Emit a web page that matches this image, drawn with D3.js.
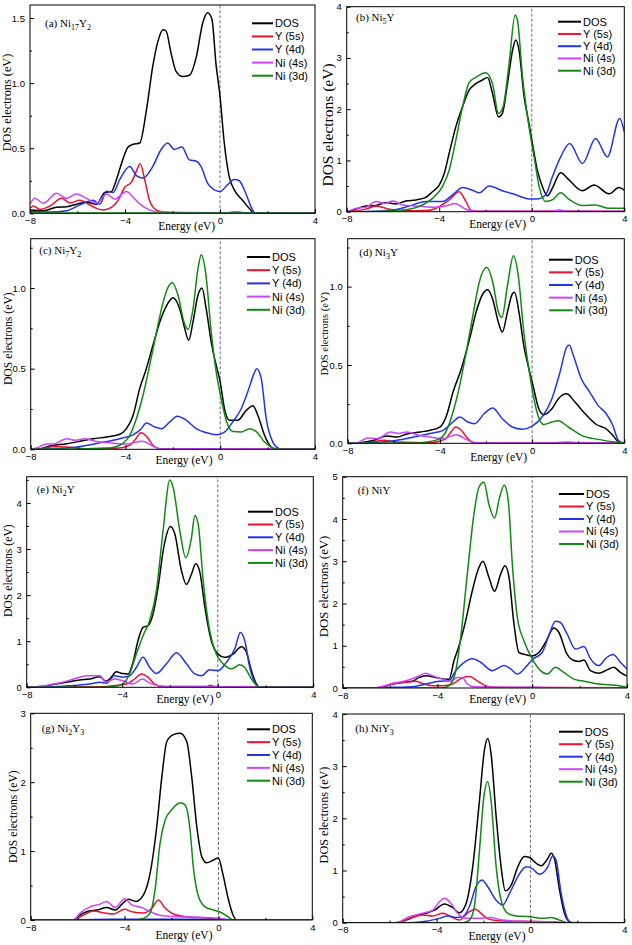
<!DOCTYPE html>
<html><head><meta charset="utf-8">
<script src="https://cdn.jsdelivr.net/npm/d3@7"></script>
<style>body{margin:0;background:#fff}svg{display:block}</style>
</head><body>
<script>
// ---------- DATA ----------
const seriesNames = ["DOS","Y (5s)","Y (4d)","Ni (4s)","Ni (3d)"];
const xTickLabels = [-8,-4,0,4];
const xMinorTicks = [-6,-2,2];
const yTicksA = [0,0.5,1.0,1.5];
const yTicksB = [0,1,2,3,4];
const yTicksC = [0,0.5,1.0];
const yTicksD = [0,0.5,1.0];
const yTicksE = [0,1,2,3,4];
const yTicksF = [0,1,2,3,4,5];
const yTicksG = [0,1,2,3];
const yTicksH = [0,1,2,3,4];
const titleA = [["(a) Ni",0],["17",1],["Y",0],["2",1]];
const titleB = [["(b) Ni",0],["5",1],["Y",0]];
const titleC = [["(c) Ni",0],["7",1],["Y",0],["2",1]];
const titleD = [["(d) Ni",0],["3",1],["Y",0]];
const titleE = [["(e) Ni",0],["2",1],["Y",0]];
const titleF = [["(f) NiY",0]];
const titleG = [["(g) Ni",0],["2",1],["Y",0],["3",1]];
const titleH = [["(h) NiY",0],["3",1]];
const xLabel = "Energy (eV)";
const yLabel = "DOS electrons (eV)";

// (a) Ni17Y2
const a_DOS = [[-8,0.026],[-7.44,0.02],[-6.88,0.046],[-6.46,0.05],[-6.04,0.07],[-5.62,0.085],[-5.2,0.07],[-4.85,0.16],[-4.57,0.167],[-4.36,0.26],[-4.15,0.38],[-3.87,0.51],[-3.66,0.53],[-3.38,0.54],[-3.1,0.79],[-2.83,1.13],[-2.6,1.33],[-2.4,1.41],[-2.27,1.40],[-2.06,1.23],[-1.85,1.09],[-1.57,1.05],[-1.29,1.06],[-1.0,1.2],[-0.73,1.46],[-0.52,1.54],[-0.34,1.49],[-0.17,1.15],[0,0.9],[0.18,0.54],[0.39,0.28],[0.6,0.18],[0.95,0.10],[1.23,0.038],[1.44,0],[4,0]];
const a_Y5s = [[-8,0.038],[-7.86,0.056],[-7.58,0.03],[-7.16,0.056],[-6.67,0.115],[-6.32,0.08],[-5.9,0.1],[-5.48,0.064],[-5.2,0.038],[-4.92,0.026],[-4.57,0.046],[-4.29,0.1],[-4.01,0.2],[-3.73,0.24],[-3.55,0.31],[-3.36,0.38],[-3.17,0.26],[-2.97,0.1],[-2.69,0.026],[-2.4,0.01],[-1.5,0.005],[0.3,0.004],[0.7,0.01],[1.1,0.004],[4,0.003]];
const a_Y4d = [[-8,0.013],[-7.16,0.01],[-6.46,0.02],[-5.9,0.065],[-5.34,0.1],[-5.06,0.07],[-4.78,0.17],[-4.5,0.16],[-4.22,0.26],[-3.8,0.36],[-3.52,0.29],[-3.24,0.27],[-2.83,0.36],[-2.48,0.49],[-2.2,0.54],[-1.92,0.49],[-1.6,0.51],[-1.29,0.41],[-1.0,0.40],[-0.8,0.36],[-0.52,0.23],[-0.24,0.18],[0,0.167],[0.32,0.22],[0.6,0.26],[0.81,0.25],[1.09,0.15],[1.37,0.026],[1.51,0],[4,0]];
const a_Ni4s = [[-8,0.07],[-7.79,0.115],[-7.44,0.077],[-6.88,0.154],[-6.46,0.115],[-6.04,0.149],[-5.62,0.115],[-5.2,0.077],[-4.78,0.149],[-4.43,0.108],[-3.94,0.167],[-3.66,0.123],[-3.38,0.072],[-2.97,0.026],[-2.55,0.01],[-1.5,0.006],[0.3,0.004],[0.6,0.012],[1.0,0.004],[4,0.003]];
const a_Ni3d = [[-8,0.002],[-4,0.003],[0,0.003],[4,0.002]];

// (b) Ni5Y
const b_DOS = [[-8,0],[-7.74,0.03],[-7.17,0.11],[-6.73,0.12],[-6.3,0.18],[-5.87,0.15],[-5.44,0.21],[-5.0,0.23],[-4.58,0.28],[-4.29,0.39],[-4.0,0.52],[-3.78,0.75],[-3.57,1.14],[-3.28,1.66],[-2.99,2.05],[-2.71,2.37],[-2.42,2.5],[-2.13,2.57],[-1.91,2.62],[-1.7,2.31],[-1.44,1.85],[-1.27,1.92],[-1.05,2.5],[-0.83,3.15],[-0.69,3.35],[-0.55,3.15],[-0.33,2.24],[-0.12,1.72],[0.03,1.33],[0.24,0.81],[0.46,0.49],[0.68,0.31],[0.89,0.46],[1.25,0.76],[1.61,0.62],[2.19,0.41],[2.69,0.52],[3.34,0.35],[3.77,0.47],[4,0.42]];
const b_Y5s = [[-8,0],[-7.17,0.05],[-6.73,0.11],[-6.16,0.05],[-5.58,0.02],[-4.43,0.03],[-4.0,0.1],[-3.57,0.23],[-3.14,0.39],[-2.85,0.2],[-2.63,0.03],[-2.4,0.01],[0.8,0.01],[1.2,0.03],[1.6,0.01],[4,0.01]];
const b_Y4d = [[-8,0],[-6.73,0.01],[-6.01,0.03],[-5.3,0.11],[-4.58,0.2],[-3.86,0.2],[-3.42,0.33],[-2.99,0.47],[-2.56,0.42],[-2.27,0.37],[-1.84,0.5],[-1.27,0.41],[-0.69,0.33],[-0.12,0.25],[0.24,0.25],[0.6,0.33],[0.89,0.68],[1.25,1.07],[1.64,1.33],[2.19,0.94],[2.76,1.43],[3.27,1.07],[3.8,1.82],[4,1.56]];
const b_Ni4s = [[-8,0],[-7.6,0.065],[-7.17,0.085],[-6.73,0.2],[-6.37,0.16],[-5.99,0.21],[-5.58,0.13],[-5.0,0.11],[-4.29,0.085],[-3.71,0.11],[-3.31,0.16],[-2.92,0.065],[-2.63,0.02],[-2.3,0.01],[0.8,0.01],[1.2,0.03],[1.6,0.01],[4,0.01]];
const b_Ni3d = [[-8,0],[-6.45,0.01],[-5.3,0.05],[-4.72,0.13],[-4.29,0.26],[-3.86,0.49],[-3.57,0.81],[-3.28,1.4],[-2.99,2.05],[-2.71,2.52],[-2.42,2.62],[-1.99,2.71],[-1.7,2.5],[-1.44,1.92],[-1.24,2.05],[-0.98,2.89],[-0.72,3.84],[-0.62,3.74],[-0.4,2.63],[-0.12,1.66],[0.1,1.07],[0.32,0.49],[0.6,0.2],[0.89,0.23],[1.25,0.37],[1.61,0.24],[2.19,0.12],[2.76,0.13],[3.34,0.065],[4,0.065]];

// (c) Ni7Y2
const c_DOS = [[-8,0],[-7.6,0.004],[-7.19,0.02],[-6.48,0.035],[-5.92,0.05],[-5.36,0.066],[-4.8,0.076],[-4.24,0.093],[-3.96,0.128],[-3.68,0.21],[-3.4,0.376],[-3.12,0.5],[-2.84,0.645],[-2.55,0.79],[-2.27,0.89],[-1.99,0.94],[-1.71,0.87],[-1.5,0.75],[-1.33,0.676],[-1.15,0.79],[-0.94,0.955],[-0.77,1.0],[-0.59,0.87],[-0.38,0.665],[-0.17,0.52],[0,0.417],[0.18,0.25],[0.39,0.18],[0.74,0.18],[1.09,0.24],[1.38,0.27],[1.59,0.21],[1.87,0.087],[2.15,0.014],[2.36,0],[4,0]];
const c_Y5s = [[-8,0],[-7.6,0.004],[-6.9,0.017],[-6.34,0.012],[-5.64,0.004],[-4.38,0.006],[-3.82,0.025],[-3.56,0.066],[-3.35,0.103],[-3.12,0.083],[-2.84,0.025],[-2.55,0.004],[4,0.003]];
const c_Y4d = [[-8,0],[-7.05,0.004],[-6.06,0.014],[-5.08,0.04],[-4.24,0.066],[-3.68,0.09],[-3.33,0.128],[-3.12,0.163],[-2.76,0.138],[-2.48,0.128],[-2.13,0.17],[-1.81,0.205],[-1.43,0.18],[-1.01,0.128],[-0.59,0.103],[-0.17,0.09],[0.18,0.107],[0.53,0.17],[0.88,0.25],[1.16,0.355],[1.4,0.46],[1.54,0.5],[1.73,0.44],[1.94,0.19],[2.22,0.045],[2.5,0.004],[2.65,0],[4,0]];
const c_Ni4s = [[-8,0],[-7.75,0.008],[-7.33,0.033],[-7.05,0.033],[-6.48,0.066],[-6.13,0.056],[-5.71,0.066],[-5.29,0.05],[-4.66,0.04],[-3.96,0.033],[-3.28,0.05],[-2.91,0.025],[-2.55,0.004],[4,0.003]];
const c_Ni3d = [[-8,0],[-6,0.002],[-4.66,0.008],[-4.24,0.025],[-3.82,0.087],[-3.54,0.19],[-3.26,0.335],[-2.98,0.52],[-2.69,0.727],[-2.41,0.913],[-2.2,1.006],[-2.02,1.033],[-1.78,0.955],[-1.53,0.79],[-1.36,0.744],[-1.15,0.87],[-0.94,1.12],[-0.8,1.207],[-0.62,1.1],[-0.38,0.727],[-0.17,0.48],[0.04,0.314],[0.25,0.18],[0.53,0.11],[0.88,0.107],[1.24,0.128],[1.52,0.11],[1.87,0.045],[2.22,0.008],[2.5,0],[4,0]];

// (d) Ni3Y
const d_DOS = [[-8,0],[-7.43,0.004],[-6.86,0.02],[-6.29,0.047],[-5.86,0.04],[-5.43,0.06],[-4.86,0.072],[-4.43,0.083],[-4.0,0.104],[-3.71,0.178],[-3.43,0.327],[-3.07,0.476],[-2.71,0.667],[-2.43,0.837],[-2.14,0.953],[-1.93,0.98],[-1.71,0.92],[-1.46,0.77],[-1.29,0.71],[-1.07,0.837],[-0.86,0.953],[-0.76,0.964],[-0.57,0.837],[-0.36,0.624],[-0.14,0.476],[0.07,0.35],[0.29,0.22],[0.5,0.183],[0.86,0.22],[1.14,0.285],[1.5,0.316],[1.86,0.263],[2.29,0.19],[2.79,0.12],[3.21,0.093],[3.5,0.051],[3.79,0.004],[4,0]];
const d_Y5s = [[-8,0],[-7.14,0.004],[-6.43,0.02],[-5.86,0.008],[-4.43,0.004],[-3.79,0.025],[-3.57,0.062],[-3.31,0.104],[-3.07,0.083],[-2.79,0.03],[-2.5,0.004],[4,0.003]];
const d_Y4d = [[-8,0],[-7.14,0.002],[-6.14,0.013],[-5.14,0.04],[-4.43,0.062],[-3.86,0.083],[-3.43,0.136],[-3.14,0.168],[-2.79,0.136],[-2.5,0.125],[-2.07,0.19],[-1.71,0.225],[-1.29,0.157],[-0.86,0.104],[-0.43,0.09],[0,0.11],[0.43,0.168],[0.86,0.285],[1.21,0.454],[1.5,0.614],[1.61,0.628],[1.79,0.56],[2.14,0.41],[2.5,0.327],[2.86,0.242],[3.21,0.19],[3.5,0.115],[3.74,0.02],[4,0]];
const d_Ni4s = [[-8,0],[-7.57,0.004],[-7.14,0.034],[-6.71,0.03],[-6.14,0.072],[-5.79,0.062],[-5.43,0.072],[-5.0,0.055],[-4.43,0.04],[-3.86,0.03],[-3.29,0.055],[-2.86,0.025],[-2.5,0.004],[1.0,0.004],[1.5,0.008],[2.0,0.004],[4,0.003]];
const d_Ni3d = [[-8,0],[-5,0.002],[-4.57,0.008],[-4.0,0.03],[-3.71,0.083],[-3.43,0.2],[-3.14,0.37],[-2.86,0.58],[-2.57,0.815],[-2.29,1.03],[-1.97,1.123],[-1.71,1.03],[-1.46,0.837],[-1.31,0.805],[-1.07,1.006],[-0.81,1.197],[-0.6,1.07],[-0.36,0.71],[-0.07,0.41],[0.21,0.2],[0.5,0.12],[0.86,0.136],[1.14,0.144],[1.57,0.104],[2.14,0.051],[2.86,0.025],[3.57,0.008],[4,0]];

// (e) Ni2Y
const e_DOS = [[-8,0],[-7.46,0.015],[-6.9,0.06],[-6.34,0.11],[-5.78,0.16],[-5.36,0.18],[-4.94,0.23],[-4.69,0.13],[-4.46,0.22],[-4.25,0.34],[-4.0,0.3],[-3.76,0.29],[-3.55,0.54],[-3.34,1.01],[-3.13,1.3],[-2.92,1.34],[-2.71,1.59],[-2.5,2.17],[-2.26,3.04],[-1.98,3.49],[-1.8,3.33],[-1.52,2.53],[-1.31,2.23],[-1.1,2.46],[-0.92,2.68],[-0.75,2.5],[-0.54,1.74],[-0.27,1.01],[0.01,0.72],[0.29,0.65],[0.64,0.72],[0.99,0.88],[1.2,0.76],[1.41,0.36],[1.62,0.07],[1.76,0],[4,0]];
const e_Y5s = [[-8,0],[-7,0.005],[-4.94,0.01],[-4.25,0.04],[-3.83,0.07],[-3.48,0.18],[-3.2,0.29],[-2.92,0.22],[-2.64,0.07],[-2.29,0.015],[-0.47,0.015],[-0.31,0.045],[-0.15,0.015],[1.8,0.005],[4,0.003]];
const e_Y4d = [[-8,0],[-7.04,0.007],[-6.06,0.04],[-5.36,0.07],[-4.94,0.11],[-4.66,0.09],[-4.32,0.25],[-3.97,0.22],[-3.69,0.25],[-3.41,0.43],[-3.13,0.65],[-2.85,0.43],[-2.57,0.3],[-2.15,0.51],[-1.73,0.75],[-1.31,0.51],[-0.96,0.29],[-0.68,0.25],[-0.34,0.38],[0.01,0.36],[0.36,0.54],[0.71,0.83],[0.95,1.19],[1.13,1.01],[1.34,0.43],[1.55,0.11],[1.76,0],[4,0]];
const e_Ni4s = [[-8,0],[-7.46,0.015],[-6.9,0.07],[-6.34,0.13],[-5.78,0.22],[-5.5,0.25],[-4.94,0.25],[-4.69,0.11],[-4.32,0.18],[-3.97,0.14],[-3.55,0.07],[-3.16,0.18],[-2.85,0.09],[-2.43,0.03],[-1.9,0.015],[0.8,0.01],[1.0,0.02],[1.3,0.01],[4,0.003]];
const e_Ni3d = [[-8,0],[-4.7,0.003],[-4.39,0.015],[-4.0,0.07],[-3.69,0.29],[-3.41,0.72],[-3.13,1.12],[-2.85,1.45],[-2.57,2.1],[-2.29,3.4],[-2.01,4.5],[-1.87,4.34],[-1.59,3.4],[-1.34,2.81],[-1.1,3.25],[-0.96,3.73],[-0.82,3.54],[-0.61,2.31],[-0.34,1.23],[-0.06,0.72],[0.22,0.51],[0.57,0.4],[0.92,0.49],[1.13,0.43],[1.41,0.18],[1.62,0.04],[1.76,0],[4,0]];

// (f) NiY
const f_DOS = [[-8,0],[-6.5,0],[-6.32,0.016],[-5.9,0.095],[-5.48,0.134],[-5.06,0.158],[-4.78,0.25],[-4.49,0.29],[-4.07,0.25],[-3.65,0.21],[-3.51,0.21],[-3.3,0.65],[-3.09,1.0],[-2.81,1.59],[-2.53,2.3],[-2.25,2.85],[-2.08,3.0],[-1.83,2.62],[-1.59,2.29],[-1.33,2.7],[-1.15,2.89],[-0.98,2.62],[-0.77,1.51],[-0.56,0.84],[-0.28,0.79],[0,0.76],[0.28,0.84],[0.56,1.08],[0.91,1.42],[1.12,1.32],[1.47,0.8],[1.76,0.65],[1.97,0.63],[2.18,0.66],[2.46,0.41],[2.81,0.35],[3.16,0.43],[3.44,0.49],[3.72,0.37],[4,0.28]];
const f_Y5s = [[-8,0],[-6.6,0.002],[-6.46,0.016],[-5.9,0.095],[-5.34,0.134],[-4.92,0.158],[-4.63,0.11],[-4.21,0.055],[-3.79,0.055],[-3.37,0.095],[-2.95,0.24],[-2.64,0.27],[-2.32,0.17],[-1.97,0.055],[-1.54,0.016],[0,0.01],[4,0.005]];
const f_Y4d = [[-8,0],[-6.5,0.002],[-5.9,0.016],[-5.06,0.03],[-4.49,0.095],[-3.93,0.158],[-3.51,0.17],[-3.23,0.41],[-2.95,0.57],[-2.53,0.69],[-2.18,0.61],[-1.69,0.41],[-1.19,0.53],[-0.91,0.45],[-0.63,0.33],[-0.28,0.49],[0,0.67],[0.42,0.84],[0.7,1.24],[0.98,1.58],[1.19,1.55],[1.47,1.28],[1.83,0.92],[2.18,0.98],[2.46,0.69],[2.81,0.53],[3.12,0.71],[3.41,0.79],[3.72,0.61],[4,0.45]];
const f_Ni4s = [[-8,0],[-6.6,0.002],[-6.46,0.016],[-5.9,0.11],[-5.34,0.17],[-4.92,0.25],[-4.49,0.35],[-4.21,0.29],[-3.79,0.21],[-3.44,0.158],[-3.16,0.25],[-2.95,0.25],[-2.74,0.095],[-2.46,0.03],[-1.5,0.02],[0,0.02],[0.5,0.01],[4,0.005]];
const f_Ni3d = [[-8,0],[-3.8,0.002],[-3.51,0.055],[-3.26,0.33],[-3.02,1.2],[-2.74,2.7],[-2.46,4.12],[-2.25,4.75],[-2.04,4.87],[-1.83,4.35],[-1.59,4.02],[-1.38,4.51],[-1.18,4.8],[-1.01,4.43],[-0.84,2.93],[-0.63,1.67],[-0.35,1.12],[0,0.69],[0.35,0.41],[0.63,0.33],[0.98,0.49],[1.33,0.37],[1.76,0.21],[2.11,0.17],[2.81,0.095],[3.51,0.063],[4,0.016]];

// (g) Ni2Y3
const g_DOS = [[-8,0],[-6.18,0],[-5.9,0.07],[-5.61,0.12],[-5.18,0.145],[-4.76,0.18],[-4.4,0.145],[-4.11,0.23],[-3.84,0.3],[-3.51,0.27],[-3.2,0.36],[-2.91,0.68],[-2.63,1.35],[-2.41,2.08],[-2.2,2.59],[-1.92,2.69],[-1.63,2.71],[-1.35,2.59],[-1.14,2.08],[-0.92,1.35],[-0.71,0.92],[-0.5,0.83],[-0.21,0.87],[0,0.9],[0.18,0.68],[0.43,0.29],[0.64,0.058],[0.78,0],[4,0]];
const g_Y5s = [[-8,0],[-6.18,0],[-5.75,0.07],[-5.33,0.13],[-4.9,0.106],[-4.47,0.087],[-4.0,0.155],[-3.69,0.12],[-3.2,0.1],[-2.84,0.17],[-2.56,0.29],[-2.27,0.17],[-1.92,0.087],[-1.35,0.048],[-0.5,0.029],[0.07,0.01],[0.5,0],[4,0]];
const g_Y4d = [[-8,0],[-6.2,0],[-5.9,0.005],[-4,0.01],[-2,0.01],[0,0.01],[0.6,0.005],[0.8,0],[4,0]];
const g_Ni4s = [[-8,0],[-6.18,0],[-5.9,0.1],[-5.47,0.19],[-5.04,0.23],[-4.76,0.27],[-4.4,0.18],[-4.0,0.31],[-3.69,0.22],[-3.27,0.18],[-2.91,0.12],[-2.49,0.07],[-1.78,0.048],[-0.78,0.039],[-0.07,0.029],[0.5,0],[4,0]];
const g_Ni3d = [[-8,0],[-3.62,0],[-3.2,0.024],[-2.91,0.1],[-2.7,0.44],[-2.49,1.11],[-2.27,1.45],[-1.99,1.6],[-1.63,1.7],[-1.42,1.67],[-1.21,1.31],[-1.07,0.77],[-0.85,0.34],[-0.57,0.19],[-0.21,0.145],[0.07,0.116],[0.36,0.058],[0.64,0],[4,0]];

// (h) NiY3
const h_DOS = [[-8,0],[-5.72,0],[-5.3,0.05],[-4.87,0.13],[-4.45,0.18],[-4.09,0.24],[-3.67,0.36],[-3.31,0.29],[-3.03,0.19],[-2.74,0.37],[-2.46,1.07],[-2.17,2.35],[-1.96,3.31],[-1.82,3.53],[-1.68,3.25],[-1.46,2.03],[-1.25,1.07],[-1.07,0.61],[-0.82,0.72],[-0.54,1.07],[-0.26,1.27],[-0.04,1.25],[0.24,1.14],[0.45,1.09],[0.74,1.23],[0.88,1.33],[1.02,1.23],[1.24,0.63],[1.45,0.18],[1.66,0.02],[1.8,0],[4,0]];
const h_Y5s = [[-8,0],[-5.72,0],[-5.16,0.083],[-4.59,0.147],[-4.16,0.128],[-3.74,0.18],[-3.38,0.115],[-3.03,0.05],[-2.67,0.19],[-2.34,0.26],[-2.03,0.147],[-1.75,0.064],[-1.18,0.032],[-0.33,0.026],[0.81,0.02],[1.3,0.005],[4,0]];
const h_Y4d = [[-8,0],[-5.16,0],[-4.45,0.026],[-3.88,0.083],[-3.52,0.128],[-3.17,0.1],[-2.88,0.115],[-2.6,0.31],[-2.32,0.69],[-2.06,0.82],[-1.82,0.69],[-1.46,0.43],[-1.18,0.34],[-0.89,0.56],[-0.54,0.88],[-0.18,1.07],[0.07,1.04],[0.38,0.93],[0.74,1.07],[0.95,1.28],[1.09,1.2],[1.31,0.56],[1.52,0.15],[1.73,0],[4,0]];
const h_Ni4s = [[-8,0],[-5.72,0],[-5.16,0.115],[-4.59,0.18],[-4.16,0.24],[-3.88,0.4],[-3.67,0.47],[-3.38,0.37],[-3.1,0.18],[-2.74,0.083],[-2.17,0.083],[-1.75,0.1],[-1.18,0.05],[-0.33,0.026],[0.81,0.02],[1.5,0],[4,0]];
const h_Ni3d = [[-8,0],[-2.88,0],[-2.6,0.05],[-2.39,0.31],[-2.17,1.39],[-2.0,2.35],[-1.82,2.7],[-1.68,2.35],[-1.46,1.07],[-1.25,0.43],[-0.97,0.18],[-0.61,0.13],[-0.04,0.115],[0.53,0.083],[0.88,0.1],[1.16,0.064],[1.45,0.013],[1.6,0],[4,0]];

// ---------- LAYOUT / STYLE ----------
const colors = ["#000000","#ee1133","#2233ee","#cc44ff","#118a11"];
const panels = [
 {title:titleA, data:[a_DOS,a_Y5s,a_Y4d,a_Ni4s,a_Ni3d], yt:yTicksA, fmt:".1f", ymax:1.6, box:[30,315,5,213.3], tp:[45,27], leg:[252,273,23.3,13.1], yl:[11,102.5,12.3], xl:[186.7,230]},
 {title:titleB, data:[b_DOS,b_Y5s,b_Y4d,b_Ni4s,b_Ni3d], yt:yTicksB, fmt:"d", ymax:4, box:[346.7,624.3,6.7,211.7], tp:[356,21], leg:[558,581,21.7,12.25], yl:[333,125,15.5], xl:[497.7,228]},
 {title:titleC, data:[c_DOS,c_Y5s,c_Y4d,c_Ni4s,c_Ni3d], yt:yTicksC, fmt:".1f", ymax:1.306, box:[30.7,315,238.7,449.3], tp:[39.3,254], leg:[247,270,257,13.2], yl:[12,338.7,11.7], xl:[184,464]},
 {title:titleD, data:[d_DOS,d_Y5s,d_Y4d,d_Ni4s,d_Ni3d], yt:yTicksD, fmt:".1f", ymax:1.306, box:[347.7,624.3,238.7,443.3], tp:[359.3,256], leg:[549,572.7,259.7,12.65], yl:[328,333.7,10.5], xl:[498.7,461]},
 {title:titleE, data:[e_DOS,e_Y5s,e_Y4d,e_Ni4s,e_Ni3d], yt:yTicksE, fmt:"d", ymax:4.57, box:[26.7,313.3,476.7,687.3], tp:[36.7,493], leg:[248,273,511.7,12.8], yl:[12,570.7,11.7], xl:[185,703]},
 {title:titleF, data:[f_DOS,f_Y5s,f_Y4d,f_Ni4s,f_Ni3d], yt:yTicksF, fmt:"d", ymax:5, box:[342.7,627,476.7,688], tp:[357.7,494], leg:[559,584,494,12.5], yl:[328,586.5,12.8], xl:[497.7,703]},
 {title:titleG, data:[g_DOS,g_Y5s,g_Y4d,g_Ni4s,g_Ni3d], yt:yTicksG, fmt:"d", ymax:3, box:[30.7,312.3,713.3,920], tp:[41.7,732], leg:[247,270,729.3,12.85], yl:[17,816.7,11.7], xl:[184,939]},
 {title:titleH, data:[h_DOS,h_Y5s,h_Y4d,h_Ni4s,h_Ni3d], yt:yTicksH, fmt:"d", ymax:4, box:[342.7,624.3,714,922.7], tp:[355.3,732], leg:[559,582.7,731.7,12.5], yl:[328,815,12.2], xl:[497,940]}
];

const SERIF = "'Liberation Serif','Times New Roman',serif";
const SANS = "'Liberation Sans',Arial,sans-serif";

const svg = d3.select("body").append("svg").attr("width",632).attr("height",945);
svg.append("rect").attr("width",632).attr("height",945).attr("fill","#fff");

panels.forEach((p,pi)=>{
  const [bx0,bx1,by0,by1] = p.box;
  const x = d3.scaleLinear().domain([-8,4]).range([bx0,bx1]);
  const y = d3.scaleLinear().domain([0,p.ymax]).range([by1,by0]);
  const g = svg.append("g");
  const cid = "clip"+pi;
  svg.append("clipPath").attr("id",cid).append("rect")
    .attr("x",bx0).attr("y",by0).attr("width",bx1-bx0).attr("height",by1-by0);

  g.append("line").attr("x1",x(0)).attr("x2",x(0)).attr("y1",y(0)).attr("y2",by0)
    .attr("stroke","#6a6a80").attr("stroke-width",1).attr("stroke-dasharray","3,2");

  const line = d3.line().x(d=>x(d[0])).y(d=>y(d[1])).curve(d3.curveMonotoneX);
  const cg = g.append("g").attr("clip-path",`url(#${cid})`);
  p.data.forEach((s,i)=>{
    cg.append("path").datum(s).attr("d",line).attr("fill","none")
      .attr("stroke",colors[i]).attr("stroke-width",1.5).attr("stroke-linejoin","round");
  });

  const ax = g.append("g").attr("transform",`translate(0,${by1})`)
    .call(d3.axisBottom(x).tickValues(xTickLabels).tickSize(-4).tickPadding(4).tickFormat(d3.format("d")));
  const axm = g.append("g").attr("transform",`translate(0,${by1})`)
    .call(d3.axisBottom(x).tickValues(xMinorTicks).tickSize(-2).tickFormat(""));
  const yStep = p.yt[1]-p.yt[0];
  const minor = d3.range(yStep/2, p.ymax, yStep);
  const ay = g.append("g").attr("transform",`translate(${bx0},0)`)
    .call(d3.axisLeft(y).tickValues(p.yt).tickSize(-4).tickPadding(5).tickFormat(d3.format(p.fmt)));
  const aym = g.append("g").attr("transform",`translate(${bx0},0)`)
    .call(d3.axisLeft(y).tickValues(minor).tickSize(-2).tickFormat(""));
  [ax,axm,ay,aym].forEach(a=>{
    a.select(".domain").remove();
    a.selectAll("line").attr("stroke","#000");
    a.selectAll("text").attr("font-family",SANS).attr("font-size",9.5).attr("fill","#000");
  });

  g.append("rect").attr("x",bx0).attr("y",by0).attr("width",bx1-bx0).attr("height",by1-by0)
    .attr("fill","none").attr("stroke","#000").attr("stroke-width",1);

  const t = g.append("text").attr("x",p.tp[0]).attr("y",p.tp[1])
    .attr("font-family",SERIF).attr("font-size",11).attr("fill","#000");
  let lastSub = false;
  p.title.forEach(([txt,sub])=>{
    const ts = t.append("tspan").text(txt);
    if (sub) { ts.attr("font-size",8).attr("dy", lastSub?0:3); }
    else if (lastSub) { ts.attr("dy",-3); }
    lastSub = !!sub;
  });

  const [lx0,lx1,ly0,ldy] = p.leg;
  seriesNames.forEach((n,i)=>{
    const yy = ly0 + i*ldy;
    g.append("line").attr("x1",lx0).attr("x2",lx1).attr("y1",yy).attr("y2",yy)
      .attr("stroke",colors[i]).attr("stroke-width",2);
    g.append("text").attr("x",lx1+2).attr("y",yy).attr("dy","0.36em")
      .attr("font-family",SANS).attr("font-size",11).attr("fill","#000").text(n);
  });

  g.append("text").attr("x",p.xl[0]).attr("y",p.xl[1]).attr("text-anchor","middle")
    .attr("font-family",SERIF).attr("font-size",11.5).attr("fill","#000").text(xLabel);
  g.append("text").attr("transform",`translate(${p.yl[0]},${p.yl[1]}) rotate(-90)`)
    .attr("text-anchor","middle").attr("font-family",SERIF).attr("font-size",p.yl[2])
    .attr("fill","#000").text(yLabel);
});
</script>
</body></html>
